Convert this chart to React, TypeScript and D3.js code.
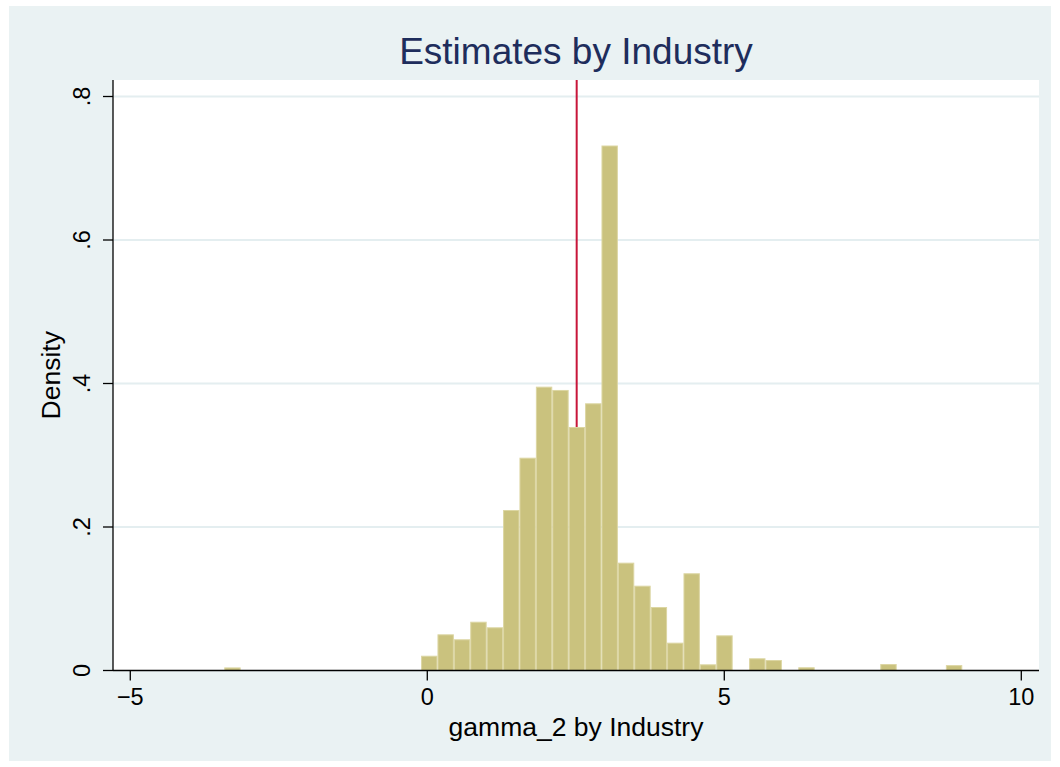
import React from "react";
import * as d3 from "d3";

// Histogram data (density per bin)
const binStart = -3.418;
const binWidth = 0.2761;
const densities: number[] = [
  0.0043, 0, 0, 0, 0, 0, 0, 0, 0, 0, 0, 0,
  0.0206, 0.0504, 0.0435, 0.068, 0.0602, 0.2237, 0.2966, 0.3956, 0.391, 0.3394,
  0.3724, 0.7317, 0.1503, 0.1182, 0.0885, 0.0388, 0.1355, 0.0086, 0.049, 0,
  0.017, 0.0146, 0, 0.0045, 0, 0, 0, 0, 0.009, 0, 0, 0, 0.0075,
];
const refLine = 2.515;
const xTicks = [-5, 0, 5, 10];
const xTickLabels = ["\u22125", "0", "5", "10"];
const yTicks = [0, 0.2, 0.4, 0.6, 0.8];
const yTickLabels = ["0", ".2", ".4", ".6", ".8"];
const title = "Estimates by Industry";
const xTitle = "gamma_2 by Industry";
const yTitle = "Density";

const W = 1060;
const H = 767;
const L = 113, R = 1039, T = 80, B = 670.5;
const FONT = "'Liberation Sans', Arial, Helvetica, sans-serif";

export default function App() {
  const x = d3.scaleLinear().domain([-5.291, 10.298]).range([L, R]);
  const y = d3.scaleLinear().domain([0, 0.823]).range([B, T]);
  const bins = densities.map((d, i) => ({
    x0: binStart + i * binWidth,
    x1: binStart + (i + 1) * binWidth,
    d,
  }));
  const cx = (L + R) / 2;
  const cy = (T + B) / 2;
  return (
    <svg
      width={W}
      height={H}
      style={{ position: "absolute", left: 0, top: 0 }}
      fontFamily={FONT}
    >
      <rect x={0} y={0} width={W} height={H} fill="#ffffff" />
      <rect x={9} y={6} width={1042} height={755} fill="#eaf2f3" />
      <rect x={L} y={T} width={R - L} height={B - T} fill="#ffffff" />
      {yTicks.filter((t) => t > 0).map((t) => (
        <line key={t} x1={L} x2={R} y1={y(t)} y2={y(t)} stroke="#e4eef0" strokeWidth={2} />
      ))}
      <line x1={x(refLine)} x2={x(refLine)} y1={T} y2={B} stroke="#c8163a" strokeWidth={2} />
      {bins.filter((b) => b.d > 0).map((b, i) => (
        <rect
          key={i}
          x={x(b.x0) + 0.5}
          y={y(b.d) + 0.5}
          width={x(b.x1) - x(b.x0) - 1}
          height={Math.max(0, B - y(b.d) - 0.5)}
          fill="#cac27e"
          stroke="#dcd6a3"
          strokeWidth={1}
        />
      ))}
      {/* axes */}
      <line x1={L} x2={L} y1={T} y2={B} stroke="#000" strokeWidth={1.3} />
      <line x1={L} x2={R} y1={B} y2={B} stroke="#000" strokeWidth={1.3} />
      {yTicks.map((t, i) => (
        <g key={t}>
          <line x1={L - 10} x2={L} y1={y(t)} y2={y(t)} stroke="#000" strokeWidth={1.3} />
          <text
            transform={`translate(${L - 23},${y(t)}) rotate(-90)`}
            textAnchor="middle"
            fontSize={23.5}
            fill="#000"
          >
            {yTickLabels[i]}
          </text>
        </g>
      ))}
      {xTicks.map((t, i) => (
        <g key={t}>
          <line x1={x(t)} x2={x(t)} y1={B} y2={B + 10} stroke="#000" strokeWidth={1.3} />
          <text x={x(t)} y={705} textAnchor="middle" fontSize={23.5} fill="#000">
            {xTickLabels[i]}
          </text>
        </g>
      ))}
      <text x={cx} y={736} textAnchor="middle" fontSize={26.5} fill="#000">
        {xTitle}
      </text>
      <text
        transform={`translate(60,${cy}) rotate(-90)`}
        textAnchor="middle"
        fontSize={26.5}
        fill="#000"
      >
        {yTitle}
      </text>
      <text x={cx} y={64} textAnchor="middle" fontSize={37} fill="#1e2d5c">
        {title}
      </text>
    </svg>
  );
}
